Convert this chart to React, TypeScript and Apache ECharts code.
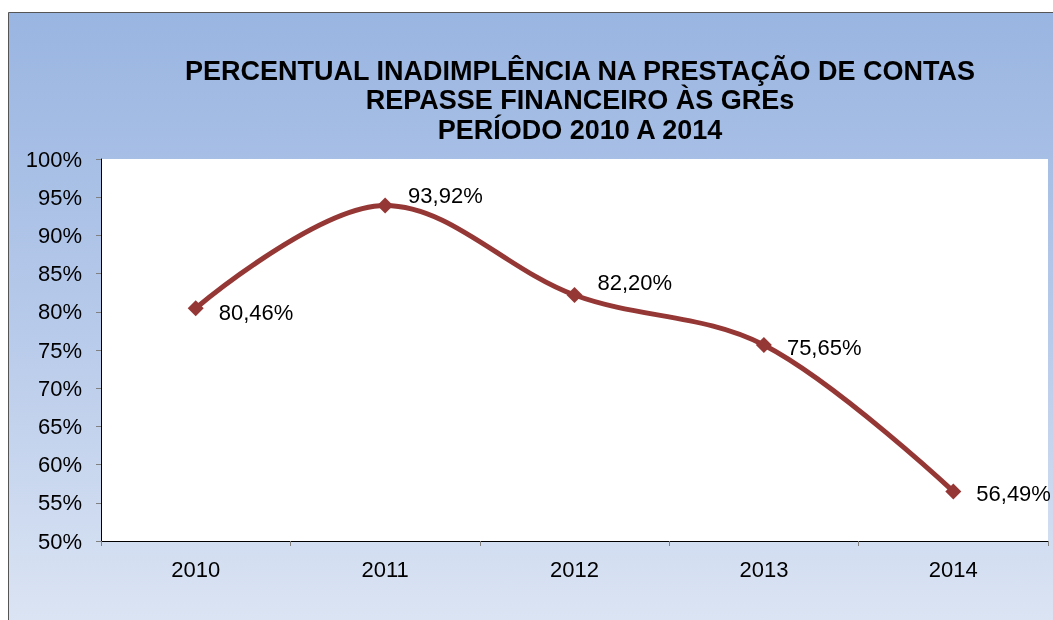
import React, { useEffect, useRef } from "react";
import * as echarts from "echarts";

const years = ["2010", "2011", "2012", "2013", "2014"];
const percentValues = [80.46, 93.92, 82.2, 75.65, 56.49];
const labelTexts = ["80,46%", "93,92%", "82,20%", "75,65%", "56,49%"];
const titleLines = [
  "PERCENTUAL INADIMPLÊNCIA NA PRESTAÇÃO DE CONTAS",
  "REPASSE FINANCEIRO ÀS GREs",
  "PERÍODO 2010 A 2014",
];

const labelOffsets = [[0, 4], [0, -10], [0, -12], [0, 2], [0, 2]];

export default function App() {
  const ref = useRef<HTMLDivElement>(null);
  useEffect(() => {
    if (!ref.current) return;
    const chart = echarts.init(ref.current, null, { renderer: "svg" });
    const font = "'Liberation Sans', Arial, sans-serif";
    chart.setOption({
      animation: false,
      graphic: [
        {
          type: "rect",
          z: -10,
          silent: true,
          shape: { x: 8.5, y: 12.5, width: 1100, height: 700 },
          style: {
            fill: new echarts.graphic.LinearGradient(0, 0, 0, 1, [
              { offset: 0, color: "#99b5e1" },
              { offset: 0.45, color: "#b7caea" },
              { offset: 1, color: "#e6ecf6" },
            ]),
            stroke: "#555555",
            lineWidth: 1,
          },
        },
      ],
      title: {
        text: titleLines.join("\n"),
        left: 575,
        top: 51,
        textAlign: "center",
        textStyle: {
          fontFamily: font,
          fontWeight: "bold",
          fontSize: 27,
          lineHeight: 29.5,
          color: "#000",
        },
      },
      grid: {
        left: 101,
        top: 159,
        width: 947,
        height: 382,
        show: true,
        backgroundColor: "#ffffff",
        borderWidth: 0,
        containLabel: false,
      },
      xAxis: {
        type: "category",
        data: years,
        boundaryGap: true,
        axisLine: { show: true, lineStyle: { color: "#000", width: 1 } },
        axisTick: { show: true, alignWithLabel: false, length: 5, lineStyle: { color: "#808080" } },
        axisLabel: { fontFamily: font, fontSize: 22, color: "#000", margin: 17 },
        splitLine: { show: false },
      },
      yAxis: {
        type: "value",
        min: 50,
        max: 100,
        interval: 5,
        axisLine: { show: true, lineStyle: { color: "#000", width: 1 } },
        axisTick: { show: true, length: 5, lineStyle: { color: "#808080" } },
        axisLabel: {
          fontFamily: font,
          fontSize: 22,
          color: "#000",
          margin: 19,
          formatter: (v: number) => `${v}%`,
        },
        splitLine: { show: false },
      },
      series: [
        {
          type: "line",
          smooth: 0.35,
          data: percentValues.map((v, i) => ({
            value: v,
            label: { offset: labelOffsets[i], formatter: labelTexts[i] },
          })),
          symbol: "diamond",
          symbolSize: 16,
          lineStyle: { color: "#953735", width: 5 },
          itemStyle: { color: "#953735" },
          label: {
            show: true,
            position: "right",
            distance: 15,
            fontFamily: font,
            fontSize: 22,
            color: "#000",
          },
        },
      ],
    });
    return () => chart.dispose();
  }, []);
  return (
    <div
      ref={ref}
      style={{ position: "fixed", left: 0, top: 0, width: 1053, height: 620 }}
    />
  );
}
